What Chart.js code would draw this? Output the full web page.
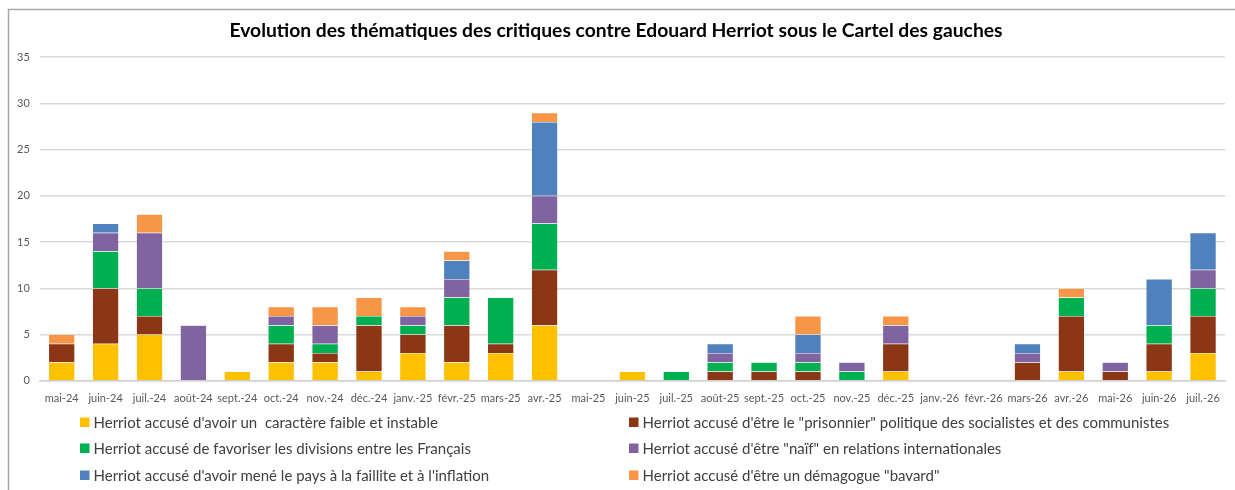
<!DOCTYPE html>
<html>
<head>
<meta charset="utf-8">
<script src="https://cdn.jsdelivr.net/npm/chart.js@4"></script>
<style>
  html, body { margin: 0; padding: 0; background: #fff; }
  #wrap { width: 1235px; height: 490px; }
</style>
</head>
<body>
<div id="wrap"><canvas id="bar"></canvas></div>
<script>
var mois = ["mai-24","juin-24","juil.-24","août-24","sept.-24","oct.-24","nov.-24","déc.-24","janv.-25","févr.-25","mars-25","avr.-25","mai-25","juin-25","juil.-25","août-25","sept.-25","oct.-25","nov.-25","déc.-25","janv.-26","févr.-26","mars-26","avr.-26","mai-26","juin-26","juil.-26"]

var faible     = [2,4,5,0,1,2,2,1,3,2,3,6,0,1,0,0,0,0,0,1,0,0,0,1,0,1,3]
var prisonnier = [2,6,2,0,0,2,1,5,2,4,1,6,0,0,0,1,1,1,0,3,0,0,2,6,1,3,4]
var divisions  = [0,4,3,0,0,2,1,1,1,3,5,5,0,0,1,1,1,1,1,0,0,0,0,2,0,2,3]
var naif       = [0,2,6,6,0,1,2,0,1,2,0,3,0,0,0,1,0,1,1,2,0,0,1,0,1,0,2]
var faillite   = [0,1,0,0,0,0,0,0,0,2,0,8,0,0,0,1,0,2,0,0,0,0,1,0,0,5,4]
var bavard     = [1,0,2,0,0,1,2,2,1,1,0,1,0,0,0,0,0,2,0,1,0,0,0,1,0,0,0]

var series = [
  "Herriot accusé d'avoir un  caractère faible et instable",
  "Herriot accusé d'être le \"prisonnier\" politique des socialistes et des communistes",
  "Herriot accusé de favoriser les divisions entre les Français",
  "Herriot accusé d'être \"naïf\" en relations internationales",
  "Herriot accusé d'avoir mené le pays à la faillite et à l'inflation",
  "Herriot accusé d'être un démagogue \"bavard\""
]
var valeurs = [faible, prisonnier, divisions, naif, faillite, bavard]
var couleurs = ["#FFC000", "#8B3716", "#00B050", "#8064A2", "#4F81BD", "#F79646"]
var yTicks = [0, 5, 10, 15, 20, 25, 30, 35]

var police = "Lato, 'Open Sans', sans-serif"

var datasets = []
for (var i = 0; i < series.length; i++) {
  datasets.push({
    label: series[i],
    data: valeurs[i],
    backgroundColor: couleurs[i],
    borderColor: "rgba(255,255,255,0.5)",
    borderWidth: 0.5,
    barPercentage: 0.6,
    categoryPercentage: 1.0
  })
}

// cadre gris autour du graphique
var cadre = {
  id: "cadre",
  beforeDraw: function (chart) {
    var c = chart.ctx
    c.save()
    c.strokeStyle = "#a6a6a6"
    c.lineWidth = 1.5
    c.strokeRect(8.5, 9.5, 1300, 600)
    c.restore()
  }
}

// légende sur deux colonnes, comme dans Excel
var legende2col = {
  id: "legende2col",
  afterDraw: function (chart) {
    var c = chart.ctx
    var colX = [80, 629]
    var rowY = [422, 448, 475]
    c.save()
    c.font = "15px " + police
    c.textBaseline = "middle"
    chart.data.datasets.forEach(function (ds, i) {
      var x = colX[i % 2]
      var y = rowY[Math.floor(i / 2)]
      c.fillStyle = ds.backgroundColor
      c.fillRect(x, y - 4.5, 9.5, 9.5)
      c.fillStyle = "#404040"
      c.fillText(ds.label, x + 13.5, y + 1)
    })
    c.restore()
  }
}

var ctx = document.getElementById("bar").getContext("2d")
var chart = new Chart(ctx, {
  type: "bar",
  data: {
    labels: mois,
    datasets: datasets
  },
  plugins: [cadre, legende2col],
  options: {
    responsive: true,
    maintainAspectRatio: false,
    animation: false,
    layout: {
      padding: { left: 7, right: 10, top: 0, bottom: 82 }
    },
    plugins: {
      legend: { display: false },
      tooltip: { enabled: false },
      title: {
        display: true,
        text: "Evolution des thématiques des critiques contre Edouard Herriot sous le Cartel des gauches",
        color: "#000",
        font: { family: police, size: 19.3, weight: "bold" },
        padding: { top: 19, bottom: 15 }
      }
    },
    scales: {
      x: {
        stacked: true,
        grid: { display: false },
        border: { display: true, color: "#d0d0d0", width: 1.5 },
        ticks: {
          color: "#595959",
          font: { family: police, size: 11 },
          maxRotation: 0,
          autoSkip: false,
          padding: 3
        }
      },
      y: {
        stacked: true,
        min: 0,
        max: 35,
        afterBuildTicks: function (axis) {
          axis.ticks = yTicks.map(function (v) { return { value: v } })
        },
        grid: { color: "#d9d9d9", lineWidth: 1.5, drawTicks: false },
        border: { display: false },
        ticks: {
          color: "#595959",
          font: { family: police, size: 11 },
          padding: 10
        }
      }
    }
  }
})
</script>
</body>
</html>
